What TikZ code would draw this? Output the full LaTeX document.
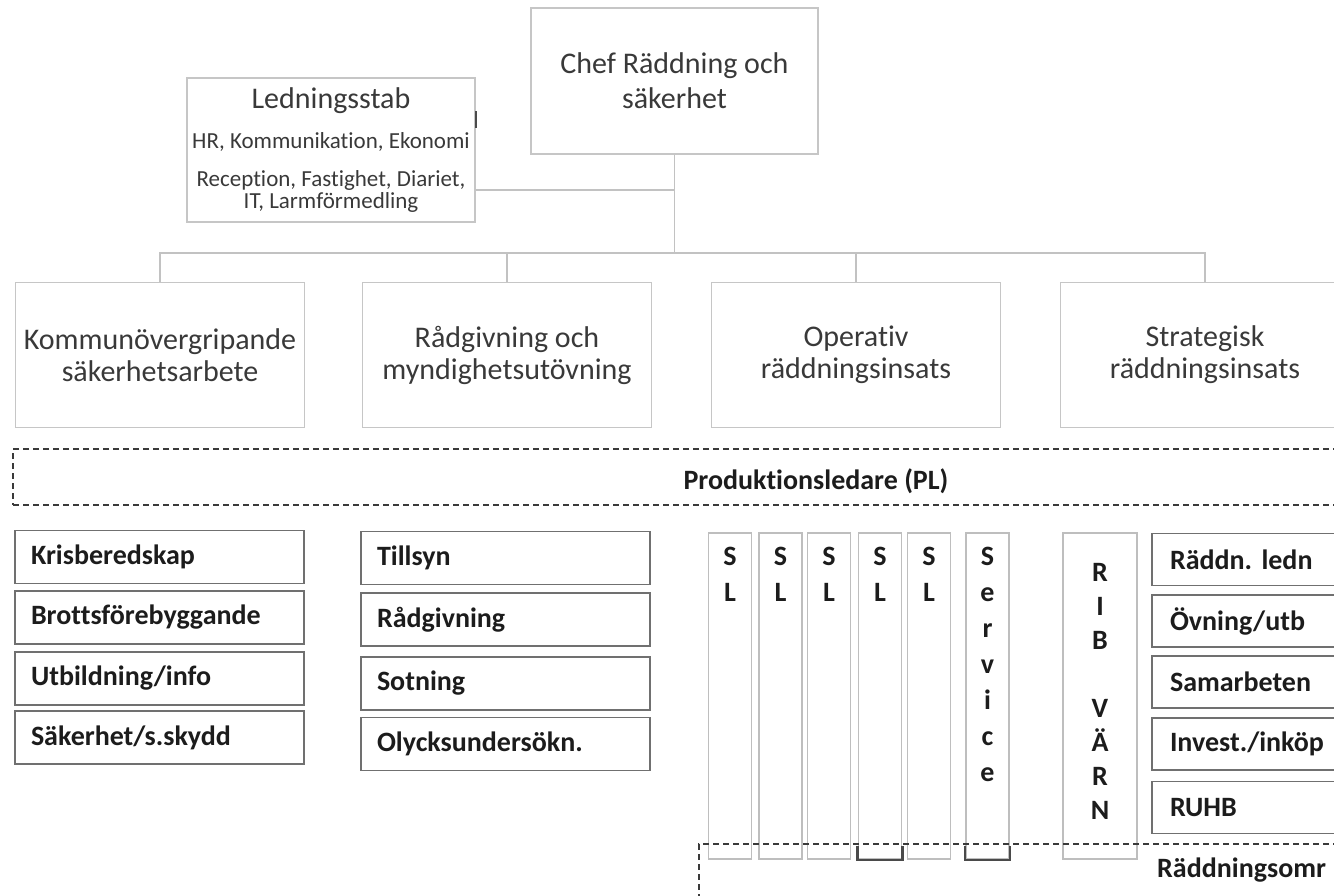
\documentclass[tikz,border=0pt]{standalone}
\usepackage{fontspec}
\setmainfont{Carlito}[Ligatures=NoCommon]
\frenchspacing
\usetikzlibrary{positioning}
\definecolor{boxgray}{HTML}{C6C6C6}
\definecolor{listgray}{HTML}{707070}
\definecolor{colgray}{HTML}{BEBEBE}
\definecolor{linegray}{HTML}{C2C2C2}
\definecolor{dashgray}{HTML}{3A3A3A}
\definecolor{textgray}{HTML}{393939}
\definecolor{textdark}{HTML}{1C1C1C}
\definecolor{brkgray}{HTML}{4A4A4A}

\begin{document}
\begin{tikzpicture}
        [x=1pt,y=-1pt,auto=center,
         topbox/.style={draw=boxgray,line width=1.8pt,minimum width=289pt,minimum height=145pt,
                        inner sep=0pt,align=center,text=textgray,font=\fontsize{30}{32}\selectfont},
         chefbox/.style={topbox,minimum width=287pt,minimum height=146pt,font=\fontsize{30}{35}\selectfont},
         stabbox/.style={draw=boxgray,line width=1.8pt,minimum width=288pt,minimum height=144pt,inner sep=0pt},
         stabtitle/.style={inner sep=0pt,text=textgray,font=\fontsize{30}{34}\selectfont},
         stabsub/.style={inner sep=0pt,align=center,text=textgray,font=\fontsize{23}{22}\selectfont},
         conn/.style={draw=linegray,line width=1.2pt},
         dashbox/.style={draw=dashgray,line width=1.2pt,dash pattern=on 6pt off 4pt,inner sep=0pt},
         pltext/.style={inner sep=0pt,text=textdark,font=\bfseries\fontsize{28}{32}\selectfont},
         listbox/.style={draw=listgray,line width=1.6pt,minimum height=53pt,text width=257pt,
                         inner xsep=16pt,inner ysep=0pt,align=left,text=textdark,
                         font=\bfseries\fontsize{28}{32}\selectfont},
         rightbox/.style={listbox,minimum height=52pt,text width=174pt,inner xsep=18pt},
         column/.style={draw=colgray,line width=1.8pt,minimum width=43pt,minimum height=326pt,inner sep=0pt},
         coltext/.style={anchor=north,inner sep=0pt,align=center,text=textdark,
                         font=\bfseries\fontsize{28}{36}\selectfont},
         bracket/.style={draw=brkgray,line width=2.5pt}]

        \useasboundingbox (0,0) rectangle (1334,895);

        \node[chefbox] (chef) at (674.5,81) {Chef Räddning och\\säkerhet};

        \node[stabbox] (stab) at (331,150) {};
        \node[stabtitle] (stabt) at (331,101) {Ledningsstab};
        \node[stabsub] (stab1) at (331,142) {HR, Kommunikation, Ekonomi};
        \node[stabsub] (stab2) at (331,191) {Reception, Fastighet, Diariet,\\IT, Larmförmedling};
        \draw[line width=2.5pt,brkgray] ([yshift=-34pt]stab.north east) -- ([yshift=-51pt]stab.north east);

        \node[topbox] (kommun) at (160,355) {Kommunövergripande\\säkerhetsarbete};
        \node[topbox] (radg) at (507,355) {Rådgivning och\\myndighetsutövning};
        \node[topbox] (oper) at (856,355) {Operativ\\räddningsinsats};
        \node[topbox] (strat) at (1205,355) {Strategisk\\räddningsinsats};

        \coordinate (bus) at (674.5,253);
        \draw[conn] (chef) -- (bus);
        \draw[conn] ([yshift=-40pt]stab.east) -- ([yshift=-40pt]stab.east -| chef);
        \draw[conn] (kommun) |- (bus) -| (strat);
        \draw[conn] (radg) -- (radg |- bus);
        \draw[conn] (oper) -- (oper |- bus);

        \node[dashbox,minimum width=1610pt,minimum height=56pt] (pl) at (818,477) {};
        \node[pltext] (pltxt) at (816,481) {Produktionsledare (PL)};

        \node[listbox] (kris) at (159.5,557) {Krisberedskap};
        \node[listbox] (brott) at (159.5,617.5) {Brottsförebyggande};
        \node[listbox] (utb) at (159.5,678.5) {Utbildning/info};
        \node[listbox] (sak) at (159.5,737.5) {Säkerhet/s.skydd};

        \node[listbox] (tills) at (505.5,558) {Tillsyn};
        \node[listbox] (radgl) at (505.5,619.5) {Rådgivning};
        \node[listbox] (sotn) at (505.5,683.5) {Sotning};
        \node[listbox] (olyck) at (505.5,744) {Olycksundersökn.};

        \node[column] (sl1) at (730,696) {};
        \node[column] (sl2) at (780.5,696) {};
        \node[column] (sl3) at (829,696) {};
        \node[column] (sl4) at (880,696) {};
        \node[column] (sl5) at (929,696) {};
        \node[column] (serv) at (987.5,696) {};
        \node[column,minimum width=74pt] (rib) at (1100,696) {};

        \node[coltext] (sl1t) at ([yshift=-15pt]sl1.north) {S\\L};
        \node[coltext] (sl2t) at ([yshift=-15pt]sl2.north) {S\\L};
        \node[coltext] (sl3t) at ([yshift=-15pt]sl3.north) {S\\L};
        \node[coltext] (sl4t) at ([yshift=-15pt]sl4.north) {S\\L};
        \node[coltext] (sl5t) at ([yshift=-15pt]sl5.north) {S\\L};
        \node[coltext] (servt) at ([yshift=-15pt]serv.north) {S\\e\\r\\v\\i\\c\\e};
        \node[coltext,font=\bfseries\fontsize{28}{34}\selectfont] (ribt) at ([yshift=-31pt]rib.north)
            {R\\I\\B\\[34pt]V\\Ä\\R\\N};

        \node[rightbox] (rled) at (1257,559.5) {Räddn. ledn};
        \node[rightbox] (ovn) at (1257,621) {Övning/utb};
        \node[rightbox] (samb) at (1257,682) {Samarbeten};
        \node[rightbox] (inv) at (1257,744) {Invest./inköp};
        \node[rightbox] (ruhb) at (1257,807.5) {RUHB};

        \node[dashbox,minimum width=800pt,minimum height=60pt] (ro) at (1099,874) {};
        \node[pltext,anchor=west] (rotxt) at (1157,870) {Räddningsomr};

        \draw[bracket] ([yshift=14pt]sl4.south west) -- (sl4.south west) -- (sl4.south east) -- ([yshift=14pt]sl4.south east);
        \draw[bracket] ([yshift=14pt]serv.south west) -- (serv.south west) -- (serv.south east) -- ([yshift=14pt]serv.south east);
\end{tikzpicture}
\end{document}
